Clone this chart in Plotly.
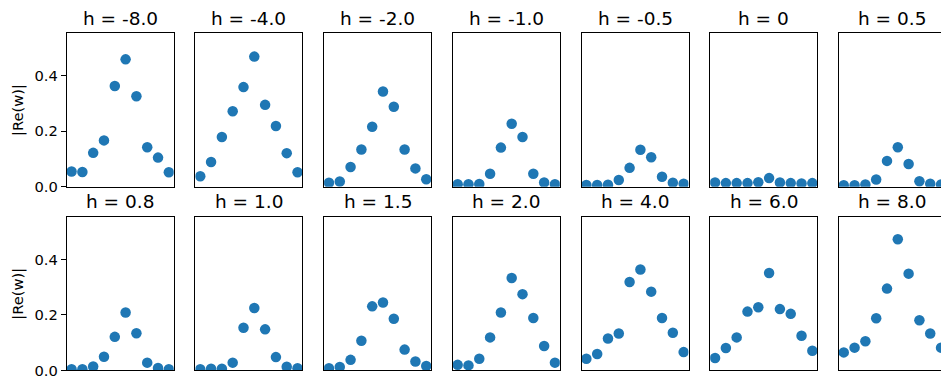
import plotly.graph_objects as go

# Site index along the chain
sites = list(range(10))

# Field strengths, one panel each
h_labels = ["-8.0", "-4.0", "-2.0", "-1.0", "-0.5", "0", "0.5",
            "0.8", "1.0", "1.5", "2.0", "4.0", "6.0", "8.0"]

# |Re(w)| per site for each field strength
w_m8_0 = [0.055, 0.053, 0.122, 0.167, 0.363, 0.459, 0.326, 0.142, 0.105, 0.052]
w_m4_0 = [0.038, 0.089, 0.179, 0.272, 0.359, 0.469, 0.295, 0.219, 0.121, 0.052]
w_m2_0 = [0.014, 0.019, 0.071, 0.134, 0.216, 0.343, 0.288, 0.134, 0.066, 0.027]
w_m1_0 = [0.009, 0.009, 0.010, 0.047, 0.141, 0.227, 0.179, 0.047, 0.015, 0.009]
w_m0_5 = [0.006, 0.006, 0.007, 0.024, 0.068, 0.133, 0.106, 0.036, 0.014, 0.011]
w_0 = [0.015, 0.013, 0.013, 0.013, 0.016, 0.031, 0.015, 0.013, 0.012, 0.013]
w_p0_5 = [0.005, 0.005, 0.008, 0.026, 0.093, 0.142, 0.082, 0.020, 0.011, 0.008]
w_p0_8 = [0.004, 0.004, 0.014, 0.049, 0.121, 0.209, 0.134, 0.028, 0.009, 0.004]
w_p1_0 = [0.004, 0.006, 0.006, 0.028, 0.154, 0.225, 0.148, 0.048, 0.013, 0.008]
w_p1_5 = [0.008, 0.012, 0.038, 0.107, 0.231, 0.245, 0.186, 0.075, 0.032, 0.016]
w_p2_0 = [0.020, 0.018, 0.042, 0.119, 0.209, 0.333, 0.275, 0.189, 0.088, 0.028]
w_p4_0 = [0.042, 0.059, 0.115, 0.133, 0.319, 0.364, 0.284, 0.189, 0.136, 0.066]
w_p6_0 = [0.045, 0.081, 0.119, 0.212, 0.228, 0.351, 0.221, 0.204, 0.125, 0.071]
w_p8_0 = [0.065, 0.082, 0.105, 0.188, 0.295, 0.473, 0.349, 0.181, 0.133, 0.082]

panels = [w_m8_0, w_m4_0, w_m2_0, w_m1_0, w_m0_5, w_0, w_p0_5,
          w_p0_8, w_p1_0, w_p1_5, w_p2_0, w_p4_0, w_p6_0, w_p8_0]

y_ticks = [0.0, 0.2, 0.4]

W, H = 941, 383
FONT = "DejaVu Sans"
BLUE = "#1f77b4"

n_cols = 7
left0, pitch, pw = 66.7, 128.7, 107.0
rows_px = [(34.0, 190.7), (221.7, 378.3)]
px_per_unit = pw / 9.9
y_max = 0.553

fig = go.Figure()
annotations = []
layout_axes = {}

for k, (label, vals) in enumerate(zip(h_labels, panels)):
    r, c = divmod(k, n_cols)
    idx = k + 1
    xa = "x" if idx == 1 else f"x{idx}"
    ya = "y" if idx == 1 else f"y{idx}"
    left = left0 + pitch * c
    right = min(left + pw, W)
    top, bottom = rows_px[r]
    x_hi = -0.45 + (right - left) / px_per_unit

    fig.add_trace(go.Scatter(
        x=sites, y=vals, mode="markers", xaxis=xa, yaxis=ya,
        marker=dict(color=BLUE, size=10.5, line=dict(width=0)),
        showlegend=False, cliponaxis=True,
    ))

    clipped = right >= W
    layout_axes["xaxis" if idx == 1 else f"xaxis{idx}"] = dict(
        domain=[left / W, right / W], range=[-0.45, x_hi],
        showline=True, linecolor="black", linewidth=1, mirror=True,
        showgrid=False, zeroline=False, showticklabels=False, ticks="",
        anchor=ya,
    )
    first_col = c == 0
    layout_axes["yaxis" if idx == 1 else f"yaxis{idx}"] = dict(
        domain=[1 - bottom / H, 1 - top / H], range=[0, y_max],
        showline=True, linecolor="black", linewidth=1,
        mirror=(not clipped),
        showgrid=False, zeroline=False,
        showticklabels=first_col,
        ticks="outside" if first_col else "",
        tickvals=y_ticks, ticktext=[f"{v:.1f}" for v in y_ticks],
        ticklen=5, tickwidth=1, tickcolor="black",
        tickfont=dict(family=FONT, size=14.7, color="black"),
        anchor=xa,
    )

    annotations.append(dict(
        text=f"h = {label}", xref="paper", yref="paper",
        x=(left + pw / 2) / W, y=1 - (top - 15.5) / H,
        xanchor="center", yanchor="middle", showarrow=False,
        font=dict(family=FONT, size=18.5, color="black"),
    ))

    if first_col:
        annotations.append(dict(
            text="|Re(w)|", xref="paper", yref="paper",
            x=18 / W, y=1 - ((top + bottom) / 2) / H,
            xanchor="center", yanchor="middle", showarrow=False,
            textangle=-90,
            font=dict(family=FONT, size=14.7, color="black"),
        ))

fig.update_layout(
    width=W, height=H,
    margin=dict(l=0, r=0, t=0, b=0),
    paper_bgcolor="white", plot_bgcolor="white",
    annotations=annotations,
    **layout_axes,
)

fig.write_html("out.html")
